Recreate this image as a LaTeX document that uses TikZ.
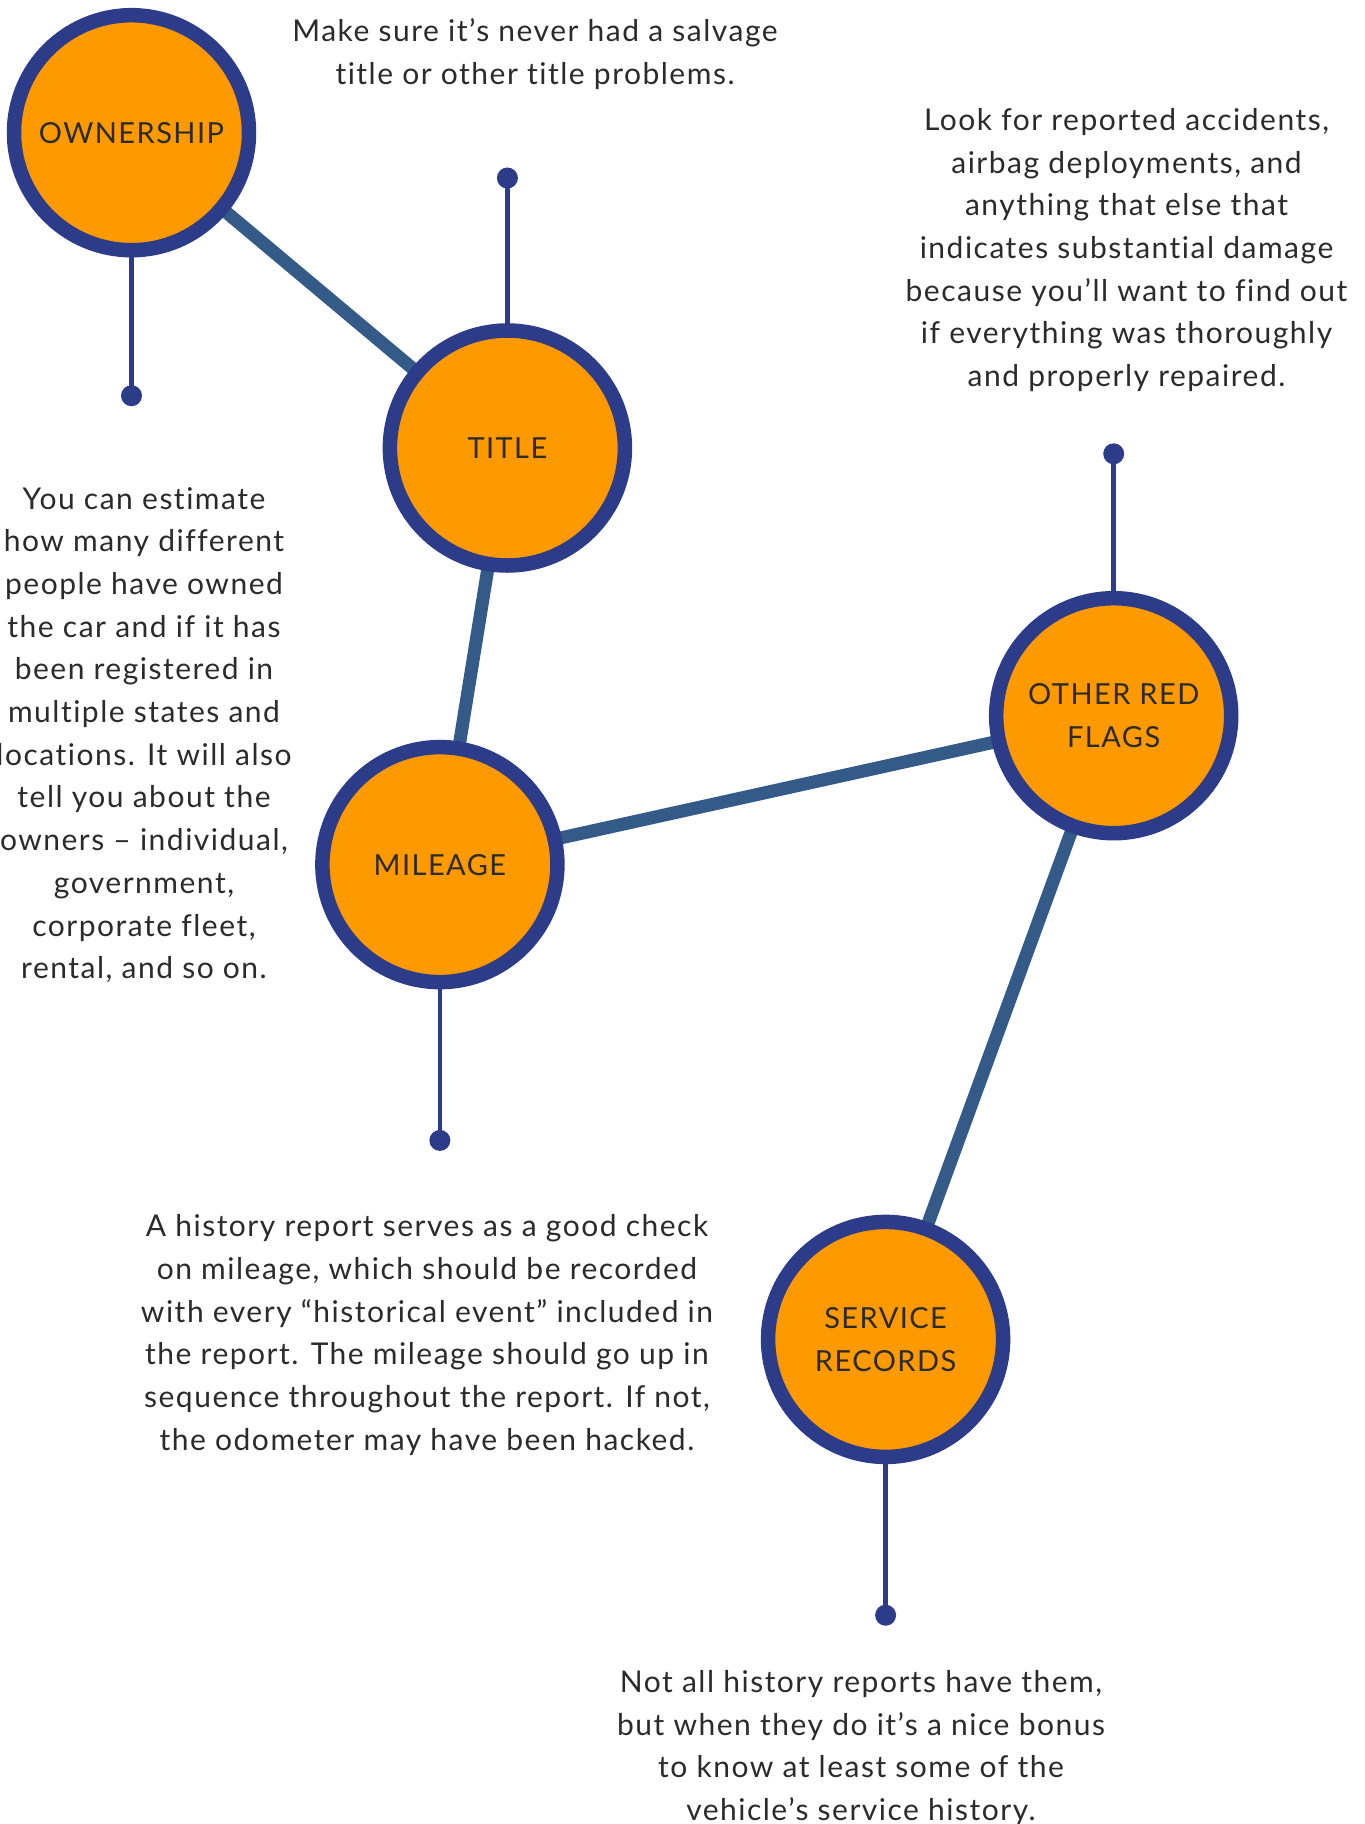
\documentclass[tikz,border=0pt]{standalone}
\usepackage{fontspec}
\setmainfont{Lato}[LetterSpace=5,Ligatures=NoCommon]
\usetikzlibrary{backgrounds}
\definecolor{orangefill}{RGB}{255,153,0}
\definecolor{navyring}{RGB}{44,60,136}
\definecolor{linkblue}{RGB}{52,91,136}
\definecolor{txt}{RGB}{43,43,43}
\begin{document}
\begin{tikzpicture}[x=1pt,y=-1pt,
  topic/.style={circle, draw=navyring, fill=orangefill, line width=14.5pt, minimum size=235pt, inner sep=0pt, text=txt, align=center, font=\fontsize{29}{43}\selectfont},
  pin/.style={circle, fill=navyring, minimum size=21pt, inner sep=0pt},
  stem/.style={draw=navyring, line width=4.7pt},
  link/.style={draw=linkblue, line width=13pt},
  desc/.style={text=txt, align=center, inner sep=0pt, font=\fontsize{30}{42.7}\selectfont}]
\useasboundingbox (0,0) rectangle (1365,1824);
\node[topic] (own) at (131.5,132.7) {OWNERSHIP};
\node[topic] (title) at (507.4,448) {TITLE};
\node[topic] (mil) at (439.9,864.6) {MILEAGE};
\node[topic] (orf) at (1113.7,715.7) {OTHER RED\\FLAGS};
\node[topic] (sr) at (885.6,1339.4) {SERVICE\\RECORDS};
\node[pin] (ownpin) at (131.5,395.7) {};
\node[pin] (titlepin) at (507.4,178) {};
\node[pin] (milpin) at (439.9,1140.4) {};
\node[pin] (orfpin) at (1113.7,453.8) {};
\node[pin] (srpin) at (885.6,1615.2) {};
\begin{pgfonlayer}{background}
\fill[white] (0,0) rectangle (1365,1824);
\draw[link] (own.center) -- (title.center);
\draw[link] (title.center) -- (mil.center);
\draw[link] (mil.center) -- (orf.center);
\draw[link] (orf.center) -- (sr.center);
\draw[stem] (own.center) -- (ownpin.center);
\draw[stem] (title.center) -- (titlepin.center);
\draw[stem] (mil.center) -- (milpin.center);
\draw[stem] (orf.center) -- (orfpin.center);
\draw[stem] (sr.center) -- (srpin.center);
\end{pgfonlayer}
\node[desc] (ttxt) at (535,54) {Make sure it’s never had a salvage\\title or other title problems.};
\node[desc] (orftxt) at (1126.5,250) {Look for reported accidents,\\airbag deployments, and\\anything that else that\\indicates substantial damage\\because you’ll want to find out\\if everything was thoroughly\\and properly repaired.};
\node[desc] (owntxt) at (144,735) {You can estimate\\how many different\\people have owned\\the car and if it has\\been registered in\\multiple states and\\locations. It will also\\tell you about the\\owners – individual,\\government,\\corporate fleet,\\rental, and so on.};
\node[desc] (miltxt) at (427,1335) {A history report serves as a good check\\on mileage, which should be recorded\\with every “historical event” included in\\the report. The mileage should go up in\\sequence throughout the report. If not,\\the odometer may have been hacked.};
\node[desc] (srtxt) at (861,1748) {Not all history reports have them,\\but when they do it’s a nice bonus\\to know at least some of the\\vehicle’s service history.};
\end{tikzpicture}
\end{document}
